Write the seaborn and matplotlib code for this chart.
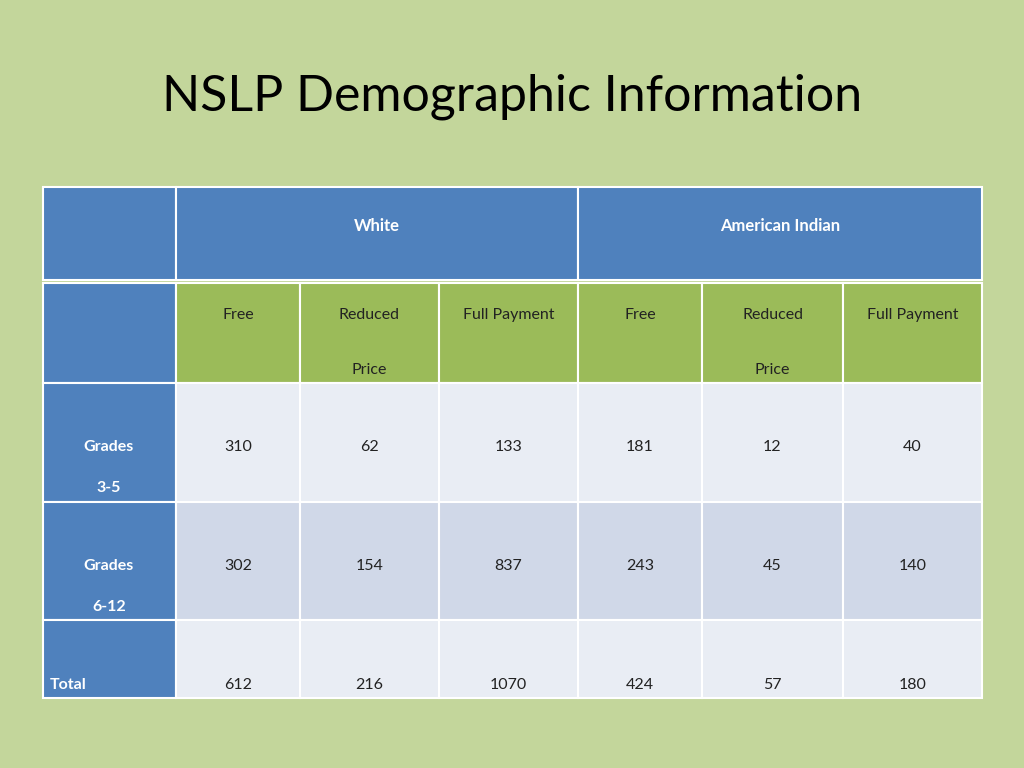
import matplotlib
matplotlib.use("Agg")
import matplotlib.pyplot as plt
from matplotlib.patches import Rectangle
import seaborn as sns

sns.set_theme(style="white", font="Lato")

title = "NSLP Demographic Information"
groups = ["White", "American Indian"]
sub_headers = [("Free", ""), ("Reduced", "Price"), ("Full Payment", ""),
               ("Free", ""), ("Reduced", "Price"), ("Full Payment", "")]
row_labels = [("Grades", "3-5"), ("Grades", "6-12"), ("Total", "")]
grades_3_5 = [310, 62, 133, 181, 12, 40]
grades_6_12 = [302, 154, 837, 243, 45, 140]
totals = [612, 216, 1070, 424, 57, 180]
values = [grades_3_5, grades_6_12, totals]

BG = "#C3D69B"
BLUE = "#4F81BD"
GREEN = "#9BBB59"
ROW_SHADES = ["#E9EDF4", "#D0D8E8", "#E9EDF4"]

col_edges = [43, 176, 300, 439, 578, 702, 843, 982]
body_edges = [383, 502, 620, 698]

fig = plt.figure(figsize=(10.24, 7.68), dpi=100, facecolor=BG)
ax = fig.add_axes([0, 0, 1, 1])
ax.set_xlim(0, 1024)
ax.set_ylim(768, 0)
ax.axis("off")

def cell(x0, x1, y0, y1, color):
    ax.add_patch(Rectangle((x0, y0), x1 - x0, y1 - y0, facecolor=color,
                           edgecolor="white", linewidth=1.5))

ax.text(512, 97, title, ha="center", va="center", fontsize=36, color="black")

# header row 1
cell(col_edges[0], col_edges[1], 187, 280, BLUE)
for g, name in enumerate(groups):
    x0, x1 = col_edges[1 + 3 * g], col_edges[4 + 3 * g]
    cell(x0, x1, 187, 280, BLUE)
    ax.text((x0 + x1) / 2, 226, name, ha="center", va="center",
            fontsize=12, fontweight="bold", color="white")

# header row 2
cell(col_edges[0], col_edges[1], 283, 383, BLUE)
for j, (l1, l2) in enumerate(sub_headers):
    x0, x1 = col_edges[j + 1], col_edges[j + 2]
    cell(x0, x1, 283, 383, GREEN)
    ax.text((x0 + x1) / 2, 315, l1, ha="center", va="center", fontsize=11.5, color="#222222")
    if l2:
        ax.text((x0 + x1) / 2, 370, l2, ha="center", va="center", fontsize=11.5, color="#222222")

# body
for i, (lab, row) in enumerate(zip(row_labels, values)):
    y0, y1 = body_edges[i], body_edges[i + 1]
    cell(col_edges[0], col_edges[1], y0, y1, BLUE)
    last = i == len(values) - 1
    vy = y1 - 13 if last else y0 + 64
    if last:
        ax.text(50, vy, lab[0], ha="left", va="center", fontsize=11.5,
                fontweight="bold", color="white")
    else:
        ax.text(109, vy, lab[0], ha="center", va="center", fontsize=11.5,
                fontweight="bold", color="white")
        ax.text(109, vy + 41, lab[1], ha="center", va="center", fontsize=11.5,
                fontweight="bold", color="white")
    for j, v in enumerate(row):
        x0, x1 = col_edges[j + 1], col_edges[j + 2]
        cell(x0, x1, y0, y1, ROW_SHADES[i])
        ax.text((x0 + x1) / 2, vy, str(v), ha="center", va="center",
                fontsize=11.5, color="#222222")

fig.savefig("out.png", dpi=100, facecolor=BG)
